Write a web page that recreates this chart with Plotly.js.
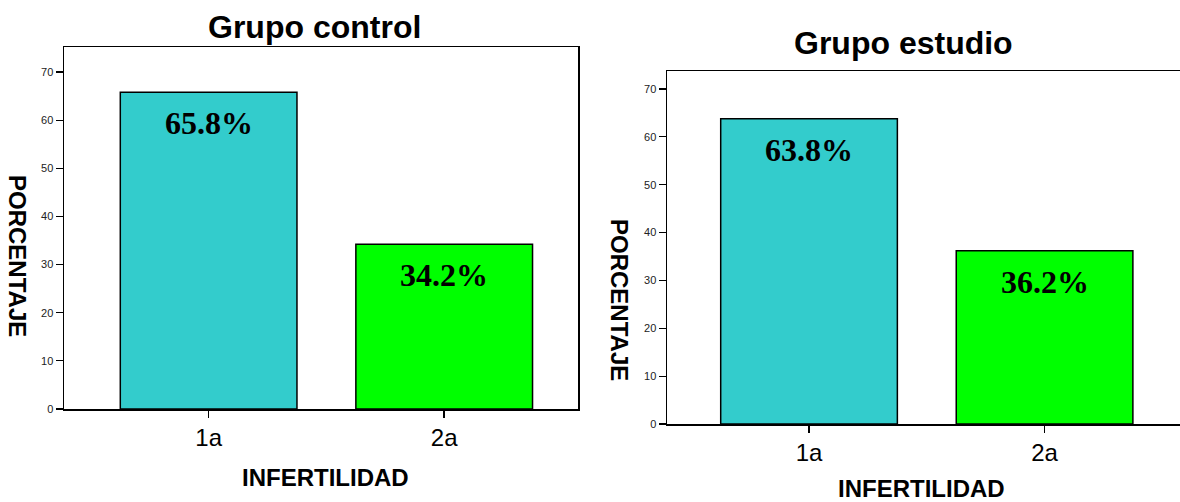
<!DOCTYPE html>
<html><head><meta charset="utf-8">
<script src="https://cdn.plot.ly/plotly-3.0.1.min.js"></script>
<style>html,body{margin:0;padding:0;overflow:hidden;background:#fff}</style>
</head><body><div id="chart" style="width:1180px;height:502px"></div>
<script>
const categories = ['1a', '2a'];
const controlValues = [65.8, 34.2];
const estudioValues = [63.8, 36.2];
const barColors = ['#33CCCC', '#00FF00'];
const yTickVals = [0, 10, 20, 30, 40, 50, 60, 70];
const chartTitles = ['Grupo control', 'Grupo estudio'];
const xTitle = 'INFERTILIDAD';
const yTitle = 'PORCENTAJE';

const barTrace = (vals, xa, ya) => ({
  type: 'bar', x: categories, y: vals, xaxis: xa, yaxis: ya, width: 0.75,
  marker: {color: barColors, line: {color: '#000', width: 1.5}},
  hoverinfo: 'none', showlegend: false
});

const labelAnns = (vals, xr, yr) => vals.map((v, i) => ({
  x: categories[i], y: v, xref: xr, yref: yr, yshift: -31, xanchor: 'center', yanchor: 'middle',
  text: '<b>' + v.toFixed(1) + '%</b>', showarrow: false,
  font: {family: 'Liberation Serif, Times New Roman, serif', size: 32, color: '#000'}
}));

const xAxisBase = {
  type: 'category', showline: true, linecolor: '#000', linewidth: 1.5,
  ticks: 'outside', ticklen: 7, tickwidth: 1.5, tickcolor: '#000',
  tickfont: {family: 'Liberation Sans, Arial, sans-serif', size: 24, color: '#000'},
  showgrid: false, zeroline: false, fixedrange: true
};
const yAxisBase = {
  tickvals: yTickVals, showline: true, linecolor: '#000', linewidth: 1.5,
  ticks: 'outside', ticklen: 7, tickwidth: 1.2, tickcolor: '#000',
  tickfont: {family: 'Liberation Sans, Arial, sans-serif', size: 11, color: '#222'},
  showgrid: false, zeroline: false, fixedrange: true
};

const fontB = (s) => ({family: 'Liberation Sans, Arial, sans-serif', size: s, color: '#000'});
const paperAnn = (text, px, py, size, angle) => ({
  text: '<b>' + text + '</b>', x: px / 1180, y: (502 - py) / 502, xref: 'paper', yref: 'paper',
  showarrow: false, xanchor: 'center', yanchor: 'middle', textangle: angle || 0, font: fontB(size)
});

const layout = {
  width: 1180, height: 502, margin: {l: 0, r: 0, t: 0, b: 0},
  paper_bgcolor: '#fff', plot_bgcolor: '#fff', bargap: 0,
  xaxis: Object.assign({}, xAxisBase, {domain: [64/1180, 578/1180], range: [-0.614, 1.568], mirror: true, anchor: 'y'}),
  yaxis: Object.assign({}, yAxisBase, {domain: [(502-409)/502, (502-47)/502], range: [0, 75.2], mirror: true, anchor: 'x'}),
  xaxis2: Object.assign({}, xAxisBase, {domain: [667/1180, 1], range: [-0.603, 1.575], mirror: true, anchor: 'y2'}),
  yaxis2: Object.assign({}, yAxisBase, {domain: [(502-424)/502, (502-71)/502], range: [0, 73.76], mirror: false, anchor: 'x2'}),
  annotations: [
    paperAnn(chartTitles[0], 314, 27, 32),
    paperAnn(chartTitles[1], 903, 43, 32),
    paperAnn(xTitle, 325, 477, 24),
    paperAnn(xTitle, 921, 488, 24),
    paperAnn(yTitle, 18, 256, 24, 90),
    paperAnn(yTitle, 620, 300, 24, 90)
  ].concat(labelAnns(controlValues, 'x', 'y'), labelAnns(estudioValues, 'x2', 'y2'))
};

Plotly.newPlot('chart', [barTrace(controlValues, 'x', 'y'), barTrace(estudioValues, 'x2', 'y2')], layout, {displayModeBar: false, staticPlot: true});
</script></body></html>
